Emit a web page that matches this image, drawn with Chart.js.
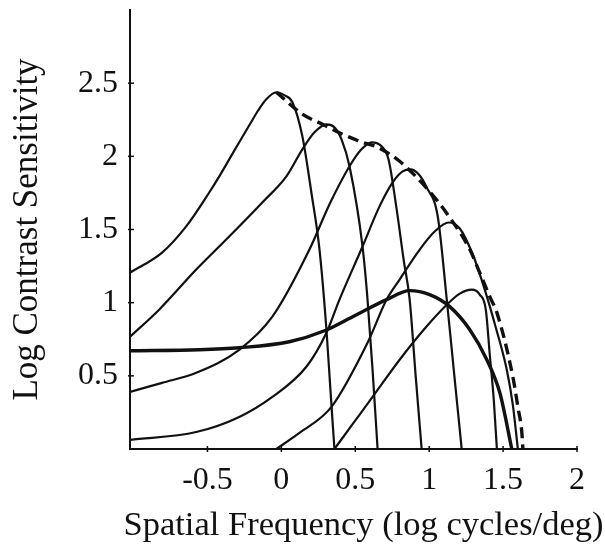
<!DOCTYPE html>
<html>
<head>
<meta charset="utf-8">
<script src="https://cdn.jsdelivr.net/npm/chart.js@4.4.1/dist/chart.umd.min.js"></script>
<style>
  html, body { margin: 0; padding: 0; background: #fff; }
  #wrap { width: 605px; height: 546px; }
</style>
</head>
<body>
<div id="wrap"><canvas id="csf"></canvas></div>
<script>
// tick values shown on the axes
const xTicks = [-0.5, 0, 0.5, 1, 1.5, 2];
const yTicks = [0.5, 1, 1.5, 2, 2.5];

// spatial-frequency channels, [log freq, log sensitivity]
const chan1 = [[-1.024, 1.205], [-0.807, 1.342], [-0.644, 1.521], [-0.488, 1.753], [-0.420, 1.863], [-0.353, 1.979],
  [-0.285, 2.096], [-0.217, 2.212], [-0.156, 2.315], [-0.102, 2.390], [-0.034, 2.438], [0.020, 2.418],
  [0.075, 2.370], [0.142, 2.137], [0.203, 1.753], [0.258, 1.363], [0.305, 0.815], [0.332, 0.404], [0.359, 0]];
const chan2 = [[-1.024, 0.767], [-0.827, 0.952], [-0.576, 1.226], [-0.353, 1.452], [-0.129, 1.685], [0.034, 1.863],
  [0.142, 2.048], [0.224, 2.164], [0.305, 2.219], [0.359, 2.199], [0.407, 2.116], [0.461, 1.932],
  [0.549, 1.384], [0.583, 1.021], [0.617, 0.541], [0.651, 0]];
const chan3 = [[-1.024, 0.390], [-0.807, 0.452], [-0.576, 0.521], [-0.285, 0.678], [-0.061, 0.904], [0.190, 1.363],
  [0.325, 1.671], [0.461, 1.932], [0.542, 2.048], [0.610, 2.096], [0.671, 2.075], [0.725, 1.979],
  [0.780, 1.637], [0.827, 1.295], [0.868, 1.021], [0.908, 0.507], [0.949, 0]];
const chan4 = [[-1.024, 0.062], [-0.576, 0.116], [-0.285, 0.219], [-0.061, 0.356], [0.169, 0.562], [0.305, 0.795],
  [0.393, 1.021], [0.549, 1.384], [0.664, 1.658], [0.753, 1.822], [0.820, 1.897], [0.875, 1.911],
  [0.929, 1.877], [0.983, 1.788], [1.058, 1.589], [1.119, 1.021], [1.173, 0.473], [1.220, 0]];
const chan5 = [[-0.034, 0], [0.122, 0.110], [0.339, 0.288], [0.583, 0.726], [0.712, 1.021], [0.800, 1.158],
  [0.936, 1.363], [1.037, 1.486], [1.132, 1.548], [1.207, 1.507], [1.295, 1.329], [1.376, 1.089],
  [1.451, 0.829], [1.525, 0.541], [1.566, 0.301], [1.600, 0]];
const chan6 = [[0.359, 0], [0.488, 0.178], [0.617, 0.356], [0.800, 0.610], [0.963, 0.815], [1.119, 0.986],
  [1.207, 1.062], [1.288, 1.089], [1.342, 1.055], [1.383, 0.952], [1.410, 0.644], [1.437, 0.336], [1.458, 0]];

// heavy curve
const heavy = [[-1.024, 0.671], [-0.556, 0.678], [-0.285, 0.692], [0.054, 0.733], [0.292, 0.808], [0.495, 0.911],
  [0.712, 1.021], [0.868, 1.082], [1.003, 1.055], [1.139, 0.973], [1.275, 0.815], [1.390, 0.610],
  [1.478, 0.384], [1.559, 0]];

// dashed envelope over the channel peaks
const envelope = [[-0.034, 2.438], [0.142, 2.288], [0.278, 2.219], [0.414, 2.151], [0.549, 2.096], [0.651, 2.062],
  [0.800, 1.966], [1.003, 1.760], [1.139, 1.582], [1.275, 1.363], [1.342, 1.205], [1.410, 1.041],
  [1.458, 0.932], [1.566, 0.493], [1.600, 0.288], [1.627, 0.110], [1.634, 0]];

const xTitle = 'Spatial Frequency (log cycles/deg)';
const yTitle = 'Log Contrast Sensitivity';

const ink = '#111';
const serif = "'Liberation Serif', 'Times New Roman', serif";

function curve(points, width, dash) {
  return {
    data: points.map(p => ({ x: p[0], y: p[1] })),
    borderColor: ink,
    borderWidth: width,
    borderDash: dash || [],
    pointRadius: 0,
    fill: false,
    cubicInterpolationMode: 'monotone'
  };
}

// small tick marks crossing the axis lines, plus the x title (sits a bit right of centre)
const axisExtras = {
  id: 'axisExtras',
  afterDraw(chart) {
    const { ctx, scales: { x, y } } = chart;
    ctx.save();
    ctx.strokeStyle = ink;
    ctx.lineWidth = 1.5;
    xTicks.forEach(v => {
      const px = x.getPixelForValue(v);
      ctx.beginPath();
      ctx.moveTo(px, y.bottom - 3);
      ctx.lineTo(px, y.bottom + 3);
      ctx.stroke();
    });
    yTicks.forEach(v => {
      const py = y.getPixelForValue(v);
      ctx.beginPath();
      ctx.moveTo(x.left - 2, py);
      ctx.lineTo(x.left + 4, py);
      ctx.stroke();
    });
    ctx.fillStyle = ink;
    ctx.font = '34.5px ' + serif;
    ctx.textAlign = 'center';
    ctx.textBaseline = 'alphabetic';
    ctx.fillText(xTitle, (x.left + x.right) / 2 + 10, 535);
    ctx.restore();
  }
};

new Chart(document.getElementById('csf'), {
  type: 'line',
  data: {
    datasets: [
      curve(chan1, 2.2), curve(chan2, 2.2), curve(chan3, 2.2),
      curve(chan4, 2.2), curve(chan5, 2.2), curve(chan6, 2.2),
      curve(heavy, 3.4),
      curve(envelope, 3.4, [11, 6])
    ]
  },
  options: {
    responsive: true,
    maintainAspectRatio: false,
    animation: false,
    layout: { padding: { top: 10, right: 28, left: 0, bottom: 0 } },
    plugins: { legend: { display: false }, tooltip: { enabled: false } },
    scales: {
      x: {
        type: 'linear',
        min: -1.024,
        max: 2,
        afterBuildTicks: s => { s.ticks = xTicks.map(v => ({ value: v })); },
        afterFit: s => { s.height = 97; s.paddingLeft = 0; s.paddingRight = 0; },
        grid: { display: false, drawTicks: false },
        border: { display: true, color: ink, width: 2 },
        ticks: { color: ink, padding: 12, font: { family: serif, size: 32 }, callback: v => String(v) },
        title: { display: false }
      },
      y: {
        type: 'linear',
        min: 0,
        max: 3,
        afterBuildTicks: s => { s.ticks = yTicks.map(v => ({ value: v })); },
        afterFit: s => { s.width = 130; s.paddingTop = 0; s.paddingBottom = 0; },
        grid: { display: false, drawTicks: false },
        border: { display: true, color: ink, width: 2 },
        ticks: { color: ink, padding: 12, font: { family: serif, size: 32 }, callback: v => String(v) },
        title: { display: true, text: yTitle, color: ink,
          font: { family: serif, size: 35 }, padding: { top: 7, bottom: 0 } }
      }
    }
  },
  plugins: [axisExtras]
});
</script>
</body>
</html>
